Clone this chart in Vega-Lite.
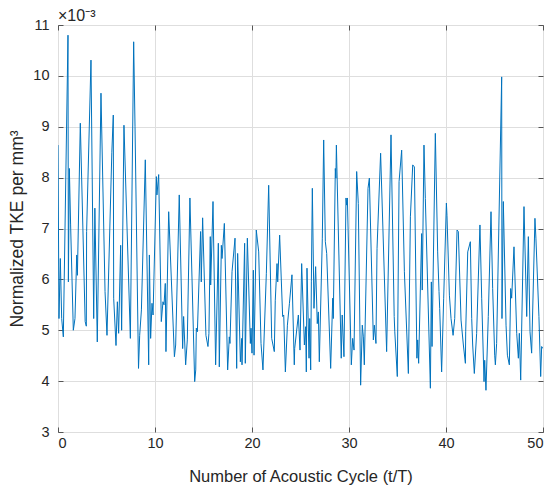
{
  "$schema": "https://vega.github.io/schema/vega-lite/v6.json",
  "autosize": {"type": "none"},
  "padding": {"left": 58, "top": 25, "right": 11, "bottom": 56},
  "width": 485,
  "height": 407,
  "background": "white",
  "title": {"text": "×10⁻³", "anchor": "start", "frame": "group", "offset": -7, "fontSize": 16, "font": "Liberation Sans", "fontWeight": "normal", "color": "#262626"},
  "config": {
    "view": {"stroke": "#555555", "strokeWidth": 1},
    "axis": {"labelFont": "Liberation Sans", "titleFont": "Liberation Sans", "labelColor": "#262626", "titleColor": "#262626", "titleFontWeight": "normal", "gridColor": "#dedede", "gridWidth": 1, "domain": false, "tickColor": "#555555"}
  },
  "data": {"values": [
    {"t":0,"v":8.64},{"t":0.1,"v":5.23},{"t":0.24,"v":6.41},{"t":0.38,"v":5.23},{"t":0.55,"v":4.87},{"t":1.03,"v":10.8},{"t":1.07,"v":5.95},{"t":1.17,"v":8.18},{"t":1.3,"v":7.07},{"t":1.58,"v":5.0},{"t":1.75,"v":5.23},{"t":1.93,"v":6.48},{"t":2.0,"v":6.08},{"t":2.3,"v":9.07},{"t":2.8,"v":5.17},{"t":2.92,"v":5.08},{"t":2.95,"v":6.94},{"t":3.4,"v":10.31},{"t":3.68,"v":5.23},{"t":3.8,"v":7.4},{"t":4.05,"v":4.77},{"t":4.43,"v":9.66},{"t":4.85,"v":5.76},{"t":5.05,"v":4.9},{"t":5.55,"v":8.5},{"t":5.7,"v":9.23},{"t":5.74,"v":5.63},{"t":5.98,"v":4.7},{"t":6.12,"v":5.56},{"t":6.25,"v":4.94},{"t":6.46,"v":6.67},{"t":6.56,"v":5.0},{"t":6.8,"v":9.03},{"t":7.46,"v":4.84},{"t":7.8,"v":10.67},{"t":7.94,"v":9.0},{"t":8.3,"v":4.25},
    {"t":8.42,"v":4.9},{"t":8.6,"v":5.4},{"t":9.0,"v":8.35},{"t":9.35,"v":4.32},{"t":9.42,"v":6.48},{"t":9.55,"v":4.84},{"t":9.69,"v":5.53},{"t":9.8,"v":5.3},{"t":10.14,"v":8.02},{"t":10.2,"v":7.66},{"t":10.38,"v":8.06},{"t":10.65,"v":5.17},{"t":10.82,"v":5.56},{"t":10.93,"v":5.5},{"t":11.06,"v":5.92},{"t":11.13,"v":4.58},{"t":11.41,"v":7.33},{"t":12.0,"v":4.48},{"t":12.13,"v":4.71},{"t":12.5,"v":7.66},{"t":12.85,"v":4.64},{"t":12.95,"v":5.27},{"t":13.16,"v":4.32},{"t":13.33,"v":4.81},{"t":13.6,"v":7.6},{"t":14.09,"v":3.99},{"t":14.2,"v":4.22},{"t":14.26,"v":5.04},{"t":14.37,"v":4.97},{"t":14.7,"v":6.94},{"t":14.77,"v":5.95},{"t":14.91,"v":7.21},{"t":15.25,"v":4.9},{"t":15.46,"v":4.68},{"t":15.56,"v":4.94},{"t":15.7,"v":6.84},{"t":15.74,"v":5.89},{"t":15.98,"v":7.53},{"t":16.25,"v":4.32},{"t":16.53,"v":6.71},{"t":16.63,"v":4.28},{"t":16.84,"v":6.67},
    {"t":16.91,"v":6.41},{"t":17.15,"v":7.1},{"t":17.49,"v":4.22},{"t":17.66,"v":4.87},{"t":17.73,"v":4.74},{"t":17.94,"v":6.15},{"t":18.25,"v":6.81},{"t":18.42,"v":4.25},{"t":18.52,"v":6.51},{"t":18.8,"v":4.38},{"t":18.94,"v":4.84},{"t":18.97,"v":4.32},{"t":19.24,"v":6.71},{"t":19.31,"v":4.35},{"t":19.52,"v":6.81},{"t":19.83,"v":4.74},{"t":19.9,"v":5.04},{"t":20.0,"v":4.55},{"t":20.14,"v":6.18},{"t":20.21,"v":4.51},{"t":20.44,"v":6.97},{"t":20.69,"v":6.54},{"t":20.93,"v":4.74},{"t":21.13,"v":4.22},{"t":21.48,"v":6.12},{"t":21.72,"v":7.85},{"t":22.03,"v":4.84},{"t":22.3,"v":4.58},{"t":22.4,"v":5.59},{"t":22.58,"v":6.31},{"t":22.65,"v":5.95},{"t":22.85,"v":6.87},{"t":23.16,"v":5.27},{"t":23.27,"v":5.3},{"t":23.44,"v":4.18},{"t":23.65,"v":5.1},{"t":23.86,"v":5.53},{"t":24.12,"v":6.09},{"t":24.36,"v":4.32},{"t":24.4,"v":4.64},{"t":24.78,"v":5.3},{"t":24.95,"v":4.61},{"t":25.12,"v":6.31},{"t":25.4,"v":4.71},
    {"t":25.53,"v":5.07},{"t":25.6,"v":4.18},{"t":25.67,"v":6.22},{"t":25.88,"v":4.45},{"t":25.95,"v":5.23},{"t":26.05,"v":4.22},{"t":26.12,"v":5.95},{"t":26.22,"v":7.79},{"t":26.39,"v":5.43},{"t":26.56,"v":6.25},{"t":26.73,"v":5.13},{"t":26.84,"v":5.36},{"t":26.94,"v":4.38},{"t":27.25,"v":6.81},{"t":27.39,"v":8.74},{"t":27.56,"v":6.74},{"t":27.7,"v":6.51},{"t":28.11,"v":4.25},{"t":28.32,"v":5.63},{"t":28.38,"v":5.23},{"t":28.59,"v":8.18},{"t":28.65,"v":7.99},{"t":28.7,"v":8.64},{"t":29.2,"v":4.45},{"t":29.3,"v":5.3},{"t":29.48,"v":4.48},{"t":29.69,"v":7.6},{"t":29.76,"v":7.46},{"t":29.83,"v":7.6},{"t":30.24,"v":4.32},{"t":30.38,"v":4.84},{"t":30.52,"v":4.61},{"t":30.79,"v":8.12},{"t":30.96,"v":7.49},{"t":31.2,"v":3.92},{"t":31.37,"v":5.1},{"t":31.48,"v":4.87},{"t":31.58,"v":4.32},{"t":31.96,"v":7.79},{"t":32.1,"v":7.99},{"t":32.51,"v":4.81},{"t":32.61,"v":5.1},{"t":32.78,"v":4.74},{"t":32.89,"v":6.61},{"t":33.26,"v":8.48},{"t":33.88,"v":4.58},
    {"t":34.33,"v":8.84},{"t":34.66,"v":5.27},{"t":34.72,"v":4.97},{"t":34.98,"v":4.09},{"t":35.16,"v":7.92},{"t":35.43,"v":8.54},{"t":35.71,"v":6.15},{"t":36.12,"v":4.15},{"t":36.33,"v":7.23},{"t":36.57,"v":8.25},{"t":36.74,"v":8.21},{"t":37.0,"v":4.45},{"t":37.08,"v":4.81},{"t":37.18,"v":4.35},{"t":37.49,"v":6.9},{"t":37.55,"v":5.79},{"t":37.73,"v":8.64},{"t":37.87,"v":7.59},{"t":38.39,"v":3.86},{"t":38.49,"v":5.95},{"t":38.56,"v":4.68},{"t":38.9,"v":8.87},{"t":39.14,"v":6.54},{"t":39.28,"v":5.76},{"t":39.35,"v":5.43},{"t":39.55,"v":4.18},{"t":39.76,"v":5.63},{"t":40.04,"v":7.5},{"t":40.1,"v":7.26},{"t":40.35,"v":5.69},{"t":40.52,"v":5.23},{"t":40.73,"v":4.9},{"t":40.9,"v":5.23},{"t":41.14,"v":6.97},{"t":41.27,"v":6.94},{"t":41.55,"v":5.2},{"t":41.79,"v":4.71},{"t":42.0,"v":4.35},{"t":42.03,"v":4.97},{"t":42.24,"v":6.54},{"t":42.51,"v":6.74},
    {"t":42.65,"v":5.23},{"t":42.75,"v":4.71},{"t":42.92,"v":4.15},{"t":43.16,"v":4.94},{"t":43.5,"v":7.07},{"t":43.68,"v":5.63},{"t":43.92,"v":3.99},{"t":43.99,"v":4.41},{"t":44.12,"v":3.82},{"t":44.36,"v":5.27},{"t":44.64,"v":7.33},{"t":44.81,"v":5.82},{"t":45.02,"v":4.51},{"t":45.09,"v":4.32},{"t":45.22,"v":4.74},{"t":45.74,"v":9.98},{"t":45.77,"v":5.23},{"t":45.91,"v":7.53},{"t":46.19,"v":5.1},{"t":46.33,"v":4.51},{"t":46.53,"v":4.32},{"t":46.67,"v":5.82},{"t":46.77,"v":5.63},{"t":47.01,"v":6.64},{"t":47.29,"v":4.94},{"t":47.46,"v":4.45},{"t":47.56,"v":4.94},{"t":47.7,"v":4.02},{"t":48.04,"v":7.43},{"t":48.32,"v":5.27},{"t":48.49,"v":6.84},{"t":48.66,"v":4.97},{"t":48.83,"v":4.55},{"t":49.17,"v":7.2},{"t":49.27,"v":6.81},{"t":49.58,"v":5.27},{"t":49.76,"v":4.09},{"t":49.86,"v":4.68},{"t":50.0,"v":4.64}
  ]},
  "layer": [
    {
      "mark": {"type": "line", "color": "#0072BD", "strokeWidth": 1, "clip": true},
      "encoding": {
        "x": {"field": "t", "type": "quantitative", "scale": {"domain": [0, 50], "nice": false},
              "axis": {"values": [0,10,20,30,40,50], "title": "Number of Acoustic Cycle (t/T)", "labelFontSize": 14.5, "titleFontSize": 16.5, "tickSize": -5, "labelPadding": 9, "titlePadding": 19, "grid": true}},
        "y": {"field": "v", "type": "quantitative", "scale": {"domain": [3, 11], "nice": false},
              "axis": {"values": [3,4,5,6,7,8,9,10,11], "title": "Normalized TKE per mm³", "labelFontSize": 14.5, "titleFontSize": 17.5, "tickSize": -5, "labelPadding": 14, "titlePadding": 6, "grid": true}}
      }
    },
    {
      "mark": {"type": "line", "opacity": 0},
      "encoding": {
        "x": {"field": "t", "type": "quantitative", "axis": {"orient": "top", "values": [0,10,20,30,40,50], "labels": false, "title": null, "grid": false, "tickSize": -5}},
        "y": {"field": "v", "type": "quantitative", "axis": {"orient": "right", "values": [3,4,5,6,7,8,9,10,11], "labels": false, "title": null, "grid": false, "tickSize": -5}}
      }
    }
  ],
  "resolve": {"axis": {"x": "independent", "y": "independent"}}
}
